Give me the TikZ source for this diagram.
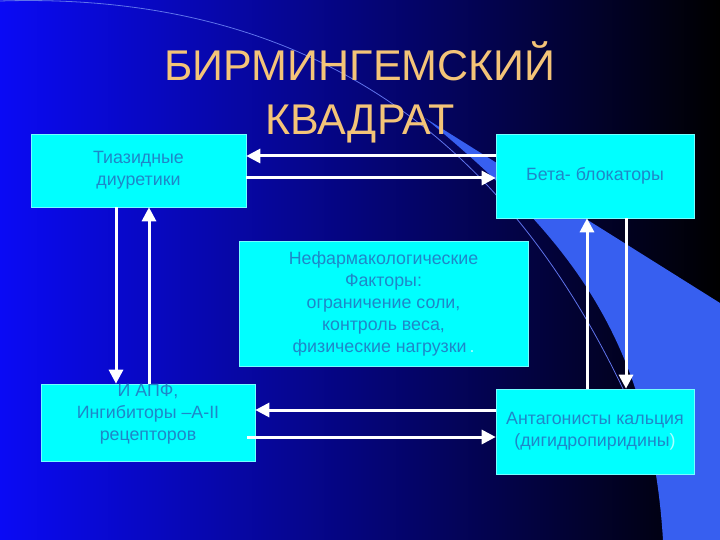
\documentclass[tikz,border=0pt]{standalone}
\usepackage{fontspec}
\setmainfont{Liberation Sans}
\usetikzlibrary{arrows.meta}
\pgfdeclarelayer{bg}
\pgfsetlayers{bg,main}
\definecolor{titleorange}{RGB}{244,196,120}
\definecolor{boxcyan}{RGB}{0,255,255}
\definecolor{boxtext}{RGB}{30,135,200}
\definecolor{bandblue}{RGB}{55,95,240}
\definecolor{arcblue}{RGB}{95,115,235}
\definecolor{bgblue}{RGB}{10,10,245}
\definecolor{paletext}{RGB}{170,255,255}
\tikzset{
    box/.style={rectangle, fill=boxcyan, draw=white!45!boxcyan, line width=0.6pt, text=boxtext, align=center, inner sep=0pt, font=\fontsize{17.8}{22}\selectfont},
    flow/.style={draw=white, line width=3pt, -{Triangle[length=14pt, width=14pt]}},
    title/.style={text=titleorange, align=center, inner sep=0pt, font=\fontsize{43}{54}\selectfont}
}
\tikzset{every label/.style={text=boxtext, align=center, inner sep=0pt, font=\fontsize{17.8}{22}\selectfont}}

\begin{document}
\begin{tikzpicture}[x=1pt, y=-1pt]
    \useasboundingbox (0,0) rectangle (720,540);

    \begin{pgfonlayer}{bg}
        \shade[left color=bgblue, right color=black] (0,0) rectangle (720,540);
        \draw[arcblue, line width=0.8pt] (0,1) .. controls (350,-10) and (540,180) .. (650,450);
        \fill[bandblue] (425,118) -- (720,303) -- (720,540) -- (663,540) .. controls (650,330) and (560,230) .. (425,118);
    \end{pgfonlayer}

    \node (title) [title] at (360, 92) {БИРМИНГЕМСКИЙ\\КВАДРАТ};

    \node (thia) [box, minimum width=215, minimum height=73] at (138.5, 170.5) {Тиазидные\\диуретики};
    \node (beta) [box, minimum width=198, minimum height=84] at (595, 176) {Бета- блокаторы};
    \node (nonpharm) [box, minimum width=289, minimum height=125] at (383.5, 303.5)
        {Нефармакологические\\Факторы:\\ограничение соли,\\ контроль веса,\\физические нагрузки\,{\color{paletext}.}};
    \node (ace) [box, minimum width=214, minimum height=77,
        label={[yshift=8pt]center:И АПФ,\\Ингибиторы –А-II\\рецепторов}] at (148, 422.5) {};
    \node (calc) [box, minimum width=198, minimum height=85] at (595, 431.5)
        {Антагонисты кальция\\(дигидропиридины{\color{paletext})}};

    \draw[flow] ([yshift=20pt]beta.west) -- ([yshift=14.5pt]thia.east);
    \draw[flow] ([yshift=-7.5pt]thia.east) -- ([yshift=-2pt]beta.west);
    \draw[flow] ([xshift=-22.5pt]thia.south) -- ([xshift=-32pt]ace.north);
    \draw[flow] ([xshift=1pt]ace.north) -- ([xshift=10.5pt]thia.south);
    \draw[flow] ([yshift=21.5pt]calc.west) -- ([yshift=12.5pt]ace.east);
    \draw[flow] ([xshift=-8pt, yshift=-14.5pt]ace.east) -- ([yshift=-5.5pt]calc.west);
    \draw[flow] ([xshift=31pt]beta.south) -- ([xshift=31pt]calc.north);
    \draw[flow] ([xshift=-8pt]calc.north) -- ([xshift=-8pt]beta.south);
\end{tikzpicture}
\end{document}
